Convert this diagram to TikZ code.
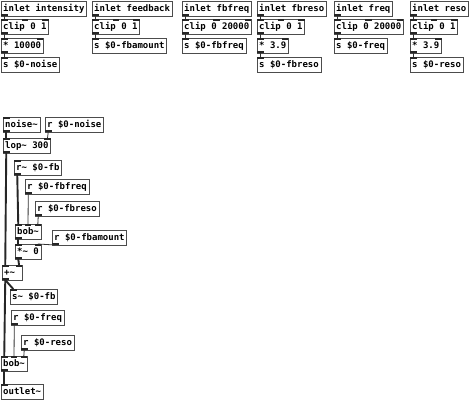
\documentclass[tikz,border=0pt]{standalone}
\usepackage{fontspec}
\newfontfamily\pdfont{DejaVu Sans Mono}
\usepackage{tikz}
\usetikzlibrary{calc}

% inlet / outlet nubs of a box: node, number of inlets, number of outlets
\newcommand\pdio[3]{%
  \ifnum#2>0
    \foreach \k in {1,...,#2}{%
      \pgfmathsetmacro\f{(\k-1)/max(#2-1,1)}%
      \coordinate (#1-i\k) at ($(#1.north west)!\f!(#1.north east)+({3.25-6.5*\f},0)$);
      \fill[nub] ($(#1-i\k)+(-3.25,0)$) rectangle ++(6.5,2);
    }%
  \fi
  \ifnum#3>0
    \coordinate (#1-o) at ($(#1.south west)+(3.25,0)$);
    \fill[nub] ($(#1-o)+(-3.25,-2)$) rectangle ++(6.5,2);
  \fi
}

\begin{document}
\begin{tikzpicture}[
		x=1pt, y=-1pt,
		font=\pdfont\bfseries\fontsize{9}{10}\selectfont,
		obj/.style={
			rectangle, draw=black!70, fill=white, line width=0.8pt,
			anchor=north west, align=left,
			inner xsep=2.2pt, inner ysep=3pt, outer sep=0pt,
			text height=7pt, text depth=2pt,
			minimum width=20.3pt
		},
		nub/.style={fill=black!85},
		ctl/.style={line width=0.8pt, black!80},
		sig/.style={line width=1.9pt, black!85}
		]
		\useasboundingbox (0,0) rectangle (470,400);
		
		% parameter inlets
		\node[obj] (inint) at (1,1) {inlet intensity};
		\node[obj] (clint) at (1,19) {clip 0 1};
		\node[obj] (mulint) at (1,38) {* 10000};
		\node[obj] (snoise) at (1,57) {s \$0-noise};
		\pdio{inint}{0}{1} \pdio{clint}{3}{1} \pdio{mulint}{2}{1} \pdio{snoise}{1}{0}
		\draw[ctl] (inint-o) -- (clint-i1);
		\draw[ctl] (clint-o) -- (mulint-i1);
		\draw[ctl] (mulint-o) -- (snoise-i1);
		
		\node[obj] (infb) at (92,1) {inlet feedback};
		\node[obj] (clfb) at (92,19) {clip 0 1};
		\node[obj] (sfbamt) at (92,38) {s \$0-fbamount};
		\pdio{infb}{0}{1} \pdio{clfb}{3}{1} \pdio{sfbamt}{1}{0}
		\draw[ctl] (infb-o) -- (clfb-i1);
		\draw[ctl] (clfb-o) -- (sfbamt-i1);
		
		\node[obj] (infbf) at (182,1) {inlet fbfreq};
		\node[obj] (clfbf) at (182,19) {clip 0 20000};
		\node[obj] (sfbf) at (182,38) {s \$0-fbfreq};
		\pdio{infbf}{0}{1} \pdio{clfbf}{3}{1} \pdio{sfbf}{1}{0}
		\draw[ctl] (infbf-o) -- (clfbf-i1);
		\draw[ctl] (clfbf-o) -- (sfbf-i1);
		
		\node[obj] (infbr) at (257,1) {inlet fbreso};
		\node[obj] (clfbr) at (257,19) {clip 0 1};
		\node[obj] (mulfbr) at (257,38) {* 3.9};
		\node[obj] (sfbr) at (257,57) {s \$0-fbreso};
		\pdio{infbr}{0}{1} \pdio{clfbr}{3}{1} \pdio{mulfbr}{2}{1} \pdio{sfbr}{1}{0}
		\draw[ctl] (infbr-o) -- (clfbr-i1);
		\draw[ctl] (clfbr-o) -- (mulfbr-i1);
		\draw[ctl] (mulfbr-o) -- (sfbr-i1);
		
		\node[obj] (infr) at (334,1) {inlet freq};
		\node[obj] (clfr) at (334,19) {clip 0 20000};
		\node[obj] (sfr) at (334,38) {s \$0-freq};
		\pdio{infr}{0}{1} \pdio{clfr}{3}{1} \pdio{sfr}{1}{0}
		\draw[ctl] (infr-o) -- (clfr-i1);
		\draw[ctl] (clfr-o) -- (sfr-i1);
		
		\node[obj] (inre) at (410,1) {inlet reso};
		\node[obj] (clre) at (410,19) {clip 0 1};
		\node[obj] (mulre) at (410,38) {* 3.9};
		\node[obj] (sre) at (410,57) {s \$0-reso};
		\pdio{inre}{0}{1} \pdio{clre}{3}{1} \pdio{mulre}{2}{1} \pdio{sre}{1}{0}
		\draw[ctl] (inre-o) -- (clre-i1);
		\draw[ctl] (clre-o) -- (mulre-i1);
		\draw[ctl] (mulre-o) -- (sre-i1);
		
		% noise source and feedback filter
		\node[obj] (noise) at (3,117) {noise\textasciitilde};
		\node[obj] (rnoise) at (45,117) {r \$0-noise};
		\node[obj] (lop) at (3,138) {lop\textasciitilde{} 300};
		\node[obj] (rfb) at (14,160) {r\textasciitilde{} \$0-fb};
		\node[obj] (rfbf) at (25,179) {r \$0-fbfreq};
		\node[obj] (rfbr) at (35,201) {r \$0-fbreso};
		\node[obj] (bobfb) at (15,224) {bob\textasciitilde};
		\node[obj] (rfbamt) at (52,230) {r \$0-fbamount};
		\node[obj] (mulfb) at (15,244) {*\textasciitilde{} 0};
		\node[obj, text width=15.9pt] (add) at (2,265) {+\textasciitilde};
		\node[obj] (sfb) at (10,289) {s\textasciitilde{} \$0-fb};
		\node[obj] (rfr) at (11,310) {r \$0-freq};
		\node[obj] (rre) at (21,335) {r \$0-reso};
		\node[obj] (bob) at (1,356) {bob\textasciitilde};
		\node[obj] (out) at (1,384) {outlet\textasciitilde};
		\pdio{noise}{1}{1} \pdio{rnoise}{0}{1} \pdio{lop}{2}{1}
		\pdio{rfb}{1}{1} \pdio{rfbf}{0}{1} \pdio{rfbr}{0}{1}
		\pdio{bobfb}{3}{1} \pdio{rfbamt}{0}{1} \pdio{mulfb}{2}{1}
		\pdio{add}{2}{1} \pdio{sfb}{1}{0} \pdio{rfr}{0}{1}
		\pdio{rre}{0}{1} \pdio{bob}{3}{1} \pdio{out}{1}{0}
		
		\draw[sig] (noise-o) -- (lop-i1);
		\draw[ctl] (rnoise-o) -- (lop-i2);
		\draw[sig] (lop-o) -- (add-i1);
		\draw[sig] (rfb-o) -- (bobfb-i1);
		\draw[ctl] (rfbf-o) -- (bobfb-i2);
		\draw[ctl] (rfbr-o) -- (bobfb-i3);
		\draw[sig] (bobfb-o) -- (mulfb-i1);
		\draw[ctl] (rfbamt-o) -- (mulfb-i2);
		\draw[sig] (mulfb-o) -- (add-i2);
		\draw[sig] (add-o) -- (sfb-i1);
		\draw[sig] (add-o) -- (bob-i1);
		\draw[ctl] (rfr-o) -- (bob-i2);
		\draw[ctl] (rre-o) -- (bob-i3);
		\draw[sig] (bob-o) -- (out-i1);
\end{tikzpicture}
\end{document}
